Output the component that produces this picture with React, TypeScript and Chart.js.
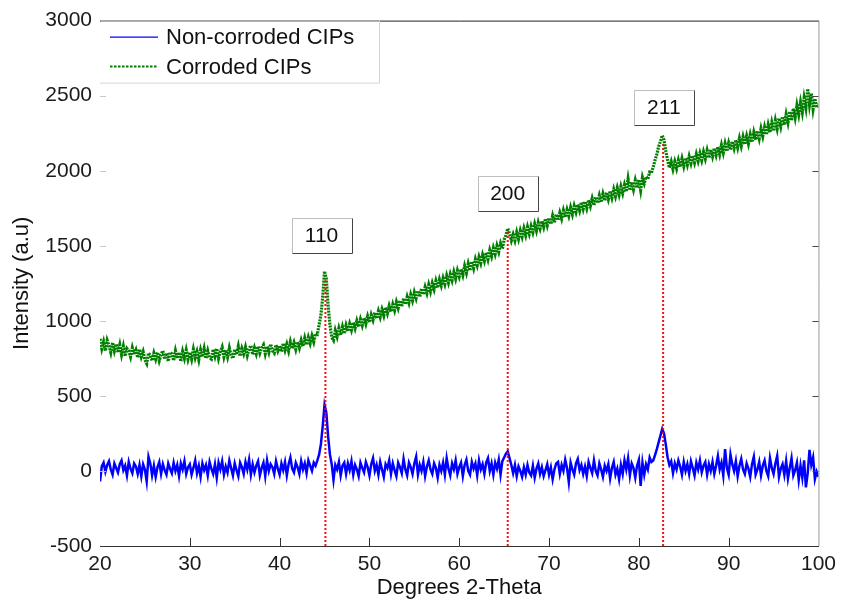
import React, { useEffect, useRef } from "react";
import { Chart, registerables } from "chart.js";

Chart.register(...registerables);

// Scan grid (degrees 2-theta): first angle and sampling step
const START_ANGLE = 20;
const ANGLE_STEP = 0.2;

// Non-corroded CIPs intensity, one value per 0.2 deg from 20 to 100
const nonCorroded = [
  -70, 30, 55, -5, 40, 65, 10, -25, 50, 20,
  -10, 45, 70, 5, 35, -30, 60, 15, -15, 50,
  30, -20, 40, -35, 45, 10, -70, 95, 50, -30,
  35, -40, 25, 60, -20, 45, 5, -25, 50, 15,
  -15, 55, 0, 40, -35, 50, 10, 65, -20, 25,
  45, -25, 20, 70, -15, 35, -40, 50, 5, 40,
  -30, 60, 15, -20, 45, -45, 55, 10, 65, -25,
  30, -10, 70, 20, -30, 50, 5, -35, 55, 25,
  -20, 60, 10, 75, -25, 45, -10, 35, 65, -30,
  20, 55, -35, 70, 0, 45, 25, -20, 65, 15,
  -25, 50, 5, 60, -30, 45, 90, 15, -10, 55,
  25, -20, 65, 10, 50, -15, 70, 35, 0, 55,
  35, 70, 110, 180, 300, 440, 390, 230, 110, 45,
  -60, 40, 10, 60, -30, 35, 55, -20, 50, 5,
  65, -25, 40, 10, -35, 55, 20, -10, 60, 25,
  -30, 45, 85, 0, 40, -25, 60, 10, -40, 45,
  20, 70, -20, 50, 5, -35, 55, 25, -15, 80,
  10, -30, 55, 25, -20, 50, 95, -25, 40, 0,
  60, -35, 30, 70, 10, -20, 50, 20, -45, 40,
  0, 55, -25, 85, 15, -30, 50, 10, 70, -20,
  25, 55, -35, 40, 75, 0, -25, 60, 15, 50,
  -30, 70, 10, 45, -20, 55, 85, 0, 50, -25,
  55, 15, 75, -25, 65, 90, 115, 130, 85, 40,
  -15, 40, -35, 30, 0, -40, 25, -25, 40, -10,
  -30, 35, -45, 15, 50, -20, 25, -35, 5, 45,
  -25, 25, -55, 10, 50, 60, -20, 40, 0, 75,
  20, -75, 55, 10, -25, 50, 80, 5, 40, -20,
  30, -35, 60, 20, -15, 70, 0, -30, 50, 10,
  -40, 35, 0, 45, -50, 20, 60, -25, 15, -55,
  40, -20, 70, 10, 85, -30, 50, 20, -45, 35,
  75, -100, 55, -25, 45, 10, 90, 60, 70, 105,
  145, 190, 235, 280, 250, 175, 90, 40, 65, -15,
  50, 10, 70, 30, -25, 60, 0, 45, -20, 65,
  20, -30, 55, 10, 70, -10, 35, 60, -25, 45,
  0, 60, -20, 35, 100, 10, 55, -30, 145, 20,
  -25, 110, 45, 0, 65, -35, 35, 80, 10, -20,
  50, 15, -40, 45, 95, -25, 10, 60, -30, 35,
  70, 0, -35, 85, 20, -20, 50, 100, -40, 15,
  45, -25, 65, -50, 20, 85, -30, 5, 55, -60,
  35, -45, 70, -110, -15, 140, 40, 90, -55, -5,
  -40,
];

// Corroded CIPs intensity, one value per 0.2 deg from 20 to 100
const corroded = [
  880, 815, 860, 800, 870, 835, 790, 855, 800, 845,
  790, 840, 775, 830, 765, 815, 800, 760, 820, 775,
  805, 755, 810, 760, 795, 740, 715, 785, 770, 735,
  785, 745, 790, 735, 775, 800, 745, 785, 730, 790,
  780, 735, 800, 750, 790, 730, 795, 750, 805, 745,
  790, 745, 810, 755, 795, 740, 805, 760, 815, 750,
  800, 755, 745, 810, 765, 815, 750, 795, 825, 760,
  805, 760, 820, 770, 750, 810, 775, 830, 765, 815,
  780, 825, 770, 815, 835, 775, 820, 780, 830, 785,
  820, 840, 780, 830, 790, 845, 800, 785, 840, 800,
  835, 795, 850, 805, 845, 800, 860, 815, 855, 810,
  860, 820, 870, 830, 885, 840, 890, 850, 900, 860,
  915, 910, 975, 1040, 1160, 1330, 1280, 1100, 975, 890,
  870, 935, 895, 950, 905, 960, 915, 970, 930, 980,
  940, 990, 950, 1000, 960, 1010, 970, 1020, 980, 1030,
  990, 1040, 1005, 1055, 1015, 1065, 1025, 1075, 1035, 1090,
  1050, 1100, 1060, 1110, 1070, 1125, 1085, 1135, 1095, 1150,
  1110, 1160, 1120, 1175, 1135, 1190, 1150, 1200, 1160, 1215,
  1175, 1225, 1185, 1240, 1195, 1250, 1210, 1265, 1220, 1275,
  1235, 1285, 1245, 1300, 1255, 1310, 1270, 1325, 1280, 1335,
  1295, 1345, 1305, 1365, 1320, 1380, 1335, 1395, 1350, 1410,
  1370, 1425, 1385, 1440, 1400, 1455, 1410, 1470, 1430, 1485,
  1445, 1500, 1460, 1515, 1480, 1540, 1570, 1615, 1580, 1535,
  1575, 1535, 1590, 1545, 1600, 1560, 1615, 1570, 1625, 1580,
  1630, 1590, 1645, 1600, 1655, 1615, 1665, 1625, 1680, 1635,
  1685, 1645, 1700, 1655, 1710, 1670, 1720, 1680, 1735, 1690,
  1740, 1700, 1755, 1710, 1765, 1725, 1775, 1735, 1790, 1745,
  1795, 1750, 1805, 1765, 1815, 1770, 1825, 1785, 1835, 1790,
  1845, 1800, 1855, 1810, 1865, 1820, 1875, 1830, 1885, 1840,
  1895, 1850, 1905, 1860, 1945, 1870, 1925, 1875, 1935, 1885,
  1940, 1870, 1955, 1915, 1960, 1945, 1990, 1985, 2025, 2070,
  2110, 2160, 2195, 2235, 2205, 2130, 2070, 2020, 2060, 2010,
  2060, 2015, 2070, 2025, 2080, 2030, 2085, 2040, 2095, 2050,
  2100, 2055, 2110, 2065, 2115, 2070, 2125, 2080, 2135, 2085,
  2140, 2095, 2150, 2105, 2160, 2110, 2170, 2120, 2180, 2130,
  2185, 2140, 2195, 2150, 2205, 2155, 2215, 2165, 2225, 2175,
  2230, 2180, 2240, 2190, 2255, 2205, 2265, 2215, 2280, 2230,
  2290, 2240, 2305, 2255, 2320, 2265, 2335, 2280, 2350, 2295,
  2360, 2305, 2375, 2320, 2395, 2335, 2415, 2355, 2435, 2375,
  2455, 2390, 2485, 2420, 2545, 2440, 2515, 2410, 2480, 2420,
  2445,
];

// Reflection markers
const peakLabels = ["110", "200", "211"];
const peakAngles = [45.1, 65.4, 82.7];
const peakTops = [1270, 1605, 2190];
const labelAngles = [44.67, 65.39, 82.78];
const labelIntensities = [1570, 1847, 2423];

// Axes
const xMin = 20, xMax = 100, xStep = 10;
const yMin = -500, yMax = 3000, yStep = 500;

const seriesNames = ["Non-corroded CIPs", "Corroded CIPs"];
const xTitle = "Degrees 2-Theta";
const yTitle = "Intensity (a.u)";
const FONT = "'Liberation Sans', Arial, Helvetica, sans-serif";

const toPoints = (vals: number[]) =>
  vals.map((y, i) => ({ x: START_ANGLE + i * ANGLE_STEP, y }));

const decorPlugin = {
  id: "decor",
  afterDatasetsDraw(chart: any) {
    const { ctx, chartArea, scales } = chart;
    const xs = scales.x;
    const ys = scales.y;
    const { left, right, top, bottom } = chartArea;
    ctx.save();

    // frame: top black, right gray
    ctx.lineWidth = 1;
    ctx.strokeStyle = "#222";
    ctx.beginPath();
    ctx.moveTo(left, top + 0.5);
    ctx.lineTo(right + 0.5, top + 0.5);
    ctx.stroke();
    ctx.strokeStyle = "#999";
    ctx.beginPath();
    ctx.moveTo(right + 0.5, top);
    ctx.lineTo(right + 0.5, bottom);
    ctx.stroke();

    // inner ticks
    ctx.strokeStyle = "#333";
    for (let v = xMin + xStep; v < xMax; v += xStep) {
      const px = Math.round(xs.getPixelForValue(v)) + 0.5;
      ctx.beginPath();
      ctx.moveTo(px, bottom);
      ctx.lineTo(px, bottom - 8);
      ctx.stroke();
    }
    for (let v = yMin + yStep; v < yMax; v += yStep) {
      const py = Math.round(ys.getPixelForValue(v)) + 0.5;
      ctx.strokeStyle = "#c8c8c8";
      ctx.beginPath();
      ctx.moveTo(left, py);
      ctx.lineTo(left + 6, py);
      ctx.stroke();
      ctx.strokeStyle = "#444";
      ctx.beginPath();
      ctx.moveTo(right, py);
      ctx.lineTo(right - 6, py);
      ctx.stroke();
    }

    // reflection label boxes
    ctx.font = `21px ${FONT}`;
    ctx.textAlign = "center";
    ctx.textBaseline = "middle";
    peakLabels.forEach((lab, i) => {
      const cx = xs.getPixelForValue(labelAngles[i]);
      const cy = ys.getPixelForValue(labelIntensities[i]);
      const w = 60, h = 35;
      const x0 = Math.round(cx - w / 2) + 0.5;
      const y0 = Math.round(cy - h / 2) + 0.5;
      ctx.fillStyle = "#fff";
      ctx.fillRect(x0, y0, w, h);
      ctx.strokeStyle = "#bdbdbd";
      ctx.beginPath();
      ctx.moveTo(x0, y0 + h);
      ctx.lineTo(x0, y0);
      ctx.lineTo(x0 + w, y0);
      ctx.stroke();
      ctx.strokeStyle = "#444";
      ctx.beginPath();
      ctx.moveTo(x0 + w, y0);
      ctx.lineTo(x0 + w, y0 + h);
      ctx.lineTo(x0, y0 + h);
      ctx.stroke();
      ctx.fillStyle = "#111";
      ctx.fillText(lab, cx, cy + 1);
    });

    // legend
    const lx0 = left, ly0 = top, lw = 279, lh = 62;
    ctx.fillStyle = "#fff";
    ctx.fillRect(lx0 + 1, ly0 + 1, lw - 1, lh - 1);
    ctx.strokeStyle = "#d4d4d4";
    ctx.beginPath();
    ctx.moveTo(lx0 + lw + 0.5, ly0);
    ctx.lineTo(lx0 + lw + 0.5, ly0 + lh + 0.5);
    ctx.lineTo(lx0, ly0 + lh + 0.5);
    ctx.stroke();
    ctx.strokeStyle = "#0000ff";
    ctx.lineWidth = 1.2;
    ctx.beginPath();
    ctx.moveTo(lx0 + 10, ly0 + 16.5);
    ctx.lineTo(lx0 + 58, ly0 + 16.5);
    ctx.stroke();
    ctx.strokeStyle = "#008000";
    ctx.lineWidth = 2;
    ctx.setLineDash([2.5, 1.5]);
    ctx.beginPath();
    ctx.moveTo(lx0 + 10, ly0 + 46);
    ctx.lineTo(lx0 + 58, ly0 + 46);
    ctx.stroke();
    ctx.setLineDash([]);
    ctx.fillStyle = "#111";
    ctx.textAlign = "left";
    ctx.textBaseline = "middle";
    ctx.font = `22px ${FONT}`;
    ctx.fillText(seriesNames[0], lx0 + 66, ly0 + 17);
    ctx.fillText(seriesNames[1], lx0 + 66, ly0 + 47);

    // axis titles
    ctx.textAlign = "center";
    ctx.fillText(xTitle, (left + right) / 2, 588);
    ctx.save();
    ctx.translate(22, (top + bottom) / 2);
    ctx.rotate(-Math.PI / 2);
    ctx.fillText(yTitle, 0, 0);
    ctx.restore();

    ctx.restore();
  },
};

export default function App() {
  const canvasRef = useRef<HTMLCanvasElement | null>(null);

  useEffect(() => {
    const canvas = canvasRef.current;
    if (!canvas) return;

    const peakSets = peakAngles.map((a, i) => ({
      label: "peak " + peakLabels[i],
      data: [
        { x: a, y: yMin },
        { x: a, y: peakTops[i] },
      ],
      borderColor: "rgba(255,0,0,0.95)",
      borderWidth: 2,
      borderDash: [2, 2],
      pointRadius: 0,
      order: 0,
    }));

    const chart = new Chart(canvas, {
      type: "line",
      data: {
        datasets: [
          ...peakSets,
          {
            label: seriesNames[0],
            data: toPoints(nonCorroded),
            borderColor: "#0000ff",
            borderWidth: 2.5,
            pointRadius: 0,
            tension: 0,
            order: 1,
          },
          {
            label: seriesNames[1],
            data: toPoints(corroded),
            borderColor: "#007f00",
            borderWidth: 3.2,
            borderDash: [2, 1],
            pointRadius: 0,
            tension: 0,
            order: 2,
          },
        ],
      },
      options: {
        responsive: false,
        animation: false,
        events: [],
        layout: { padding: { left: 0, right: 21, top: 20, bottom: 0 } },
        plugins: {
          legend: { display: false },
          tooltip: { enabled: false },
        },
        scales: {
          x: {
            type: "linear",
            min: xMin,
            max: xMax,
            ticks: {
              stepSize: xStep,
              padding: 6,
              color: "#1a1a1a",
              font: { size: 21, family: FONT },
              maxRotation: 0,
              callback: (v: any) => String(v),
            },
            grid: { display: false, drawTicks: false },
            border: { display: true, color: "#333", width: 1 },
            afterFit: (s: any) => {
              s.height = 57;
            },
          },
          y: {
            type: "linear",
            min: yMin,
            max: yMax,
            ticks: {
              stepSize: yStep,
              padding: 8,
              color: "#1a1a1a",
              font: { size: 21, family: FONT },
              callback: (v: any) => String(v),
            },
            grid: { display: false, drawTicks: false },
            border: { display: false },
            afterFit: (s: any) => {
              s.width = 100;
            },
          },
        },
      },
      plugins: [decorPlugin],
    });

    return () => chart.destroy();
  }, []);

  return (
    <div
      style={{
        position: "fixed",
        left: 0,
        top: 0,
        width: 842,
        height: 603,
        background: "#fff",
      }}
    >
      <canvas ref={canvasRef} width={842} height={603} style={{ display: "block" }} />
    </div>
  );
}
